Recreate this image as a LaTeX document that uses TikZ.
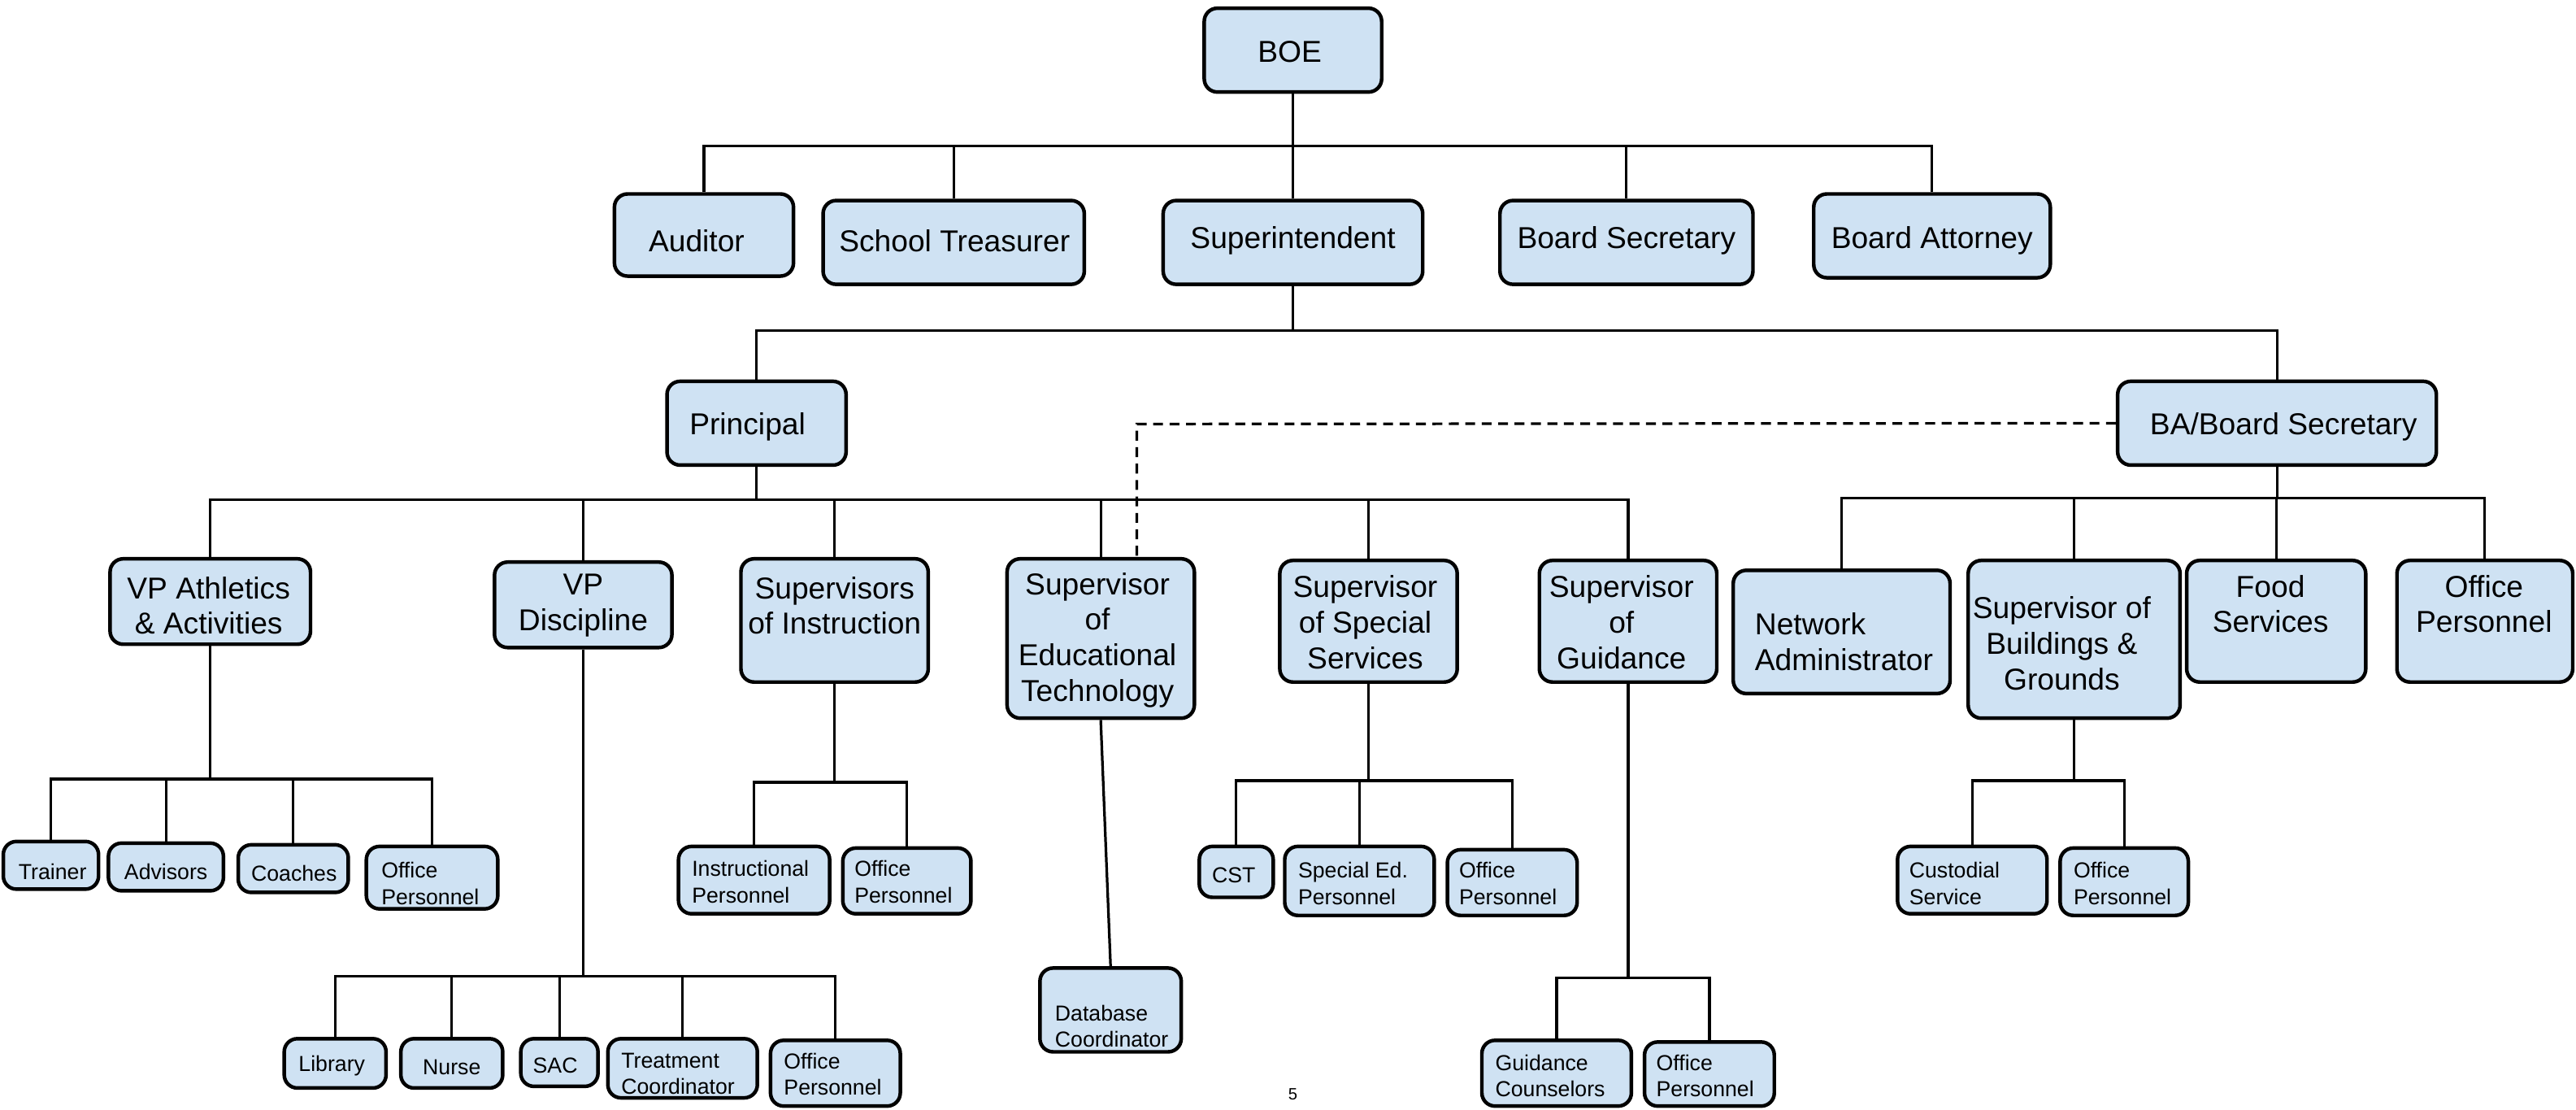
\documentclass[tikz,border=0pt]{standalone}
\usepackage{fontspec}
\setmainfont{Liberation Sans}
\usetikzlibrary{fit}
\definecolor{boxblue}{HTML}{CFE2F3}
\newcommand\bigf{\fontsize{18.4}{21.7}\selectfont}
\newcommand\smf{\fontsize{13.2}{16}\selectfont}
\tikzset{
  box/.style={draw=black, line width=2.2pt, rounded corners=8pt, fill=boxblue, inner sep=0pt},
  conn/.style={draw=black, line width=1.6pt},
  dashconn/.style={draw=black, line width=1.6pt, dash pattern=on 6pt off 4pt},
  btxt/.style={inner sep=0pt, font=\bigf, align=center, yshift=-1.5pt},
  btxtl/.style={inner sep=0pt, font=\bigf, align=left, anchor=west, yshift=-1.5pt},
  stxt/.style={inner sep=0pt, font=\smf, align=center, yshift=-1.5pt},
  stxtl/.style={inner sep=0pt, font=\smf, align=left, anchor=west, yshift=-1.5pt},
}
\newcommand\bx[5]{\path (#2,#3) coordinate (#1-a) (#4,#5) coordinate (#1-b); \node[box, fit=(#1-a)(#1-b)] (#1) {};}
\begin{document}
\begin{tikzpicture}[x=1pt,y=-1pt]
\useasboundingbox[fill=white] (0,0) rectangle (1568,675);
% boxes
\bx{boe}{733}{5}{841}{56}
\bx{aud}{374}{118}{483}{168}
\bx{tre}{501}{122}{660}{173}
\bx{sup}{708}{122}{866}{173}
\bx{bsec}{913}{122}{1067}{173}
\bx{att}{1104}{118}{1248}{169}
\bx{pri}{406}{232}{515}{283}
\bx{ba}{1289}{232}{1483}{283}
\bx{vpa}{67}{340}{189}{392}
\bx{vpd}{301}{342}{409}{394}
\bx{soi}{451}{340}{565}{415}
\bx{sedt}{613}{340}{727}{437}
\bx{sss}{779}{341}{887}{415}
\bx{sg}{937}{341}{1045}{415}
\bx{na}{1055}{347}{1187}{422}
\bx{sbg}{1198}{341}{1327}{437}
\bx{fs}{1331}{341}{1440}{415}
\bx{op}{1459}{341}{1566}{415}
\bx{tr}{2}{512}{60}{541}
\bx{adv}{66}{513}{136}{542}
\bx{coa}{145}{514}{212}{543}
\bx{opa}{223}{515}{303}{553}
\bx{lib}{173}{632}{235}{662}
\bx{nur}{244}{632}{306}{662}
\bx{sac}{317}{632}{364}{661}
\bx{tc}{370}{632}{461}{668}
\bx{opd}{469}{633}{548}{673}
\bx{ip}{413}{515}{505}{556}
\bx{opi}{513}{516}{591}{556}
\bx{db}{633}{589}{719}{640}
\bx{cst}{730}{515}{775}{546}
\bx{sep}{782}{515}{873}{557}
\bx{ops}{881}{517}{960}{557}
\bx{gc}{902}{633}{993}{673}
\bx{opg}{1001}{634}{1080}{673}
\bx{cs}{1155}{515}{1246}{556}
\bx{opb}{1254}{516}{1332}{557}
% texts
\node[btxt] (boe-t) at (785,30) {BOE};
\node[btxt] (aud-t) at (424,145) {Auditor};
\node[btxt] (tre-t) at (581,145) {School Treasurer};
\node[btxt] (sup-t) at (787,145) {Superintendent};
\node[btxt] (bsec-t) at (990,145) {Board Secretary};
\node[btxt] (att-t) at (1176,145) {Board Attorney};
\node[btxt] (pri-t) at (455,258) {Principal};
\node[btxt] (ba-t) at (1390,258) {BA/Board Secretary};
\node[btxt] (vpa-t) at (127,367) {VP Athletics\\\& Activities};
\node[btxt] (vpd-t) at (355,367) {VP\\Discipline};
\node[btxt] (soi-t) at (508,367) {Supervisors\\of Instruction};
\node[btxt] (sedt-t) at (668,388) {Supervisor\\of\\Educational\\Technology};
\node[btxt] (sss-t) at (831,377) {Supervisor\\of Special\\Services};
\node[btxt] (sg-t) at (987,377) {Supervisor\\of\\Guidance};
\node[btxtl] (na-t) at (1068,389) {Network\\Administrator};
\node[btxt] (sbg-t) at (1255,390) {Supervisor of\\Buildings \&\\Grounds};
\node[btxt] (fs-t) at (1382,366) {Food\\Services};
\node[btxt] (op-t) at (1512,366) {Office\\Personnel};
\node[stxt] (tr-t) at (32,529) {Trainer};
\node[stxt] (adv-t) at (101,529) {Advisors};
\node[stxt] (coa-t) at (179,530) {Coaches};
\node[stxtl] (opa-t) at (232,536) {Office\\Personnel};
\node[stxt] (lib-t) at (202,647) {Library};
\node[stxt] (nur-t) at (275,648) {Nurse};
\node[stxt] (sac-t) at (338,647) {SAC};
\node[stxtl] (tc-t) at (378,652) {Treatment\\Coordinator};
\node[stxtl] (opd-t) at (477,652) {Office\\Personnel};
\node[stxtl] (ip-t) at (421,535) {Instructional\\Personnel};
\node[stxtl] (opi-t) at (520,535) {Office\\Personnel};
\node[stxtl] (db-t) at (642,623) {Database\\Coordinator};
\node[stxt] (cst-t) at (751,531) {CST};
\node[stxtl] (sep-t) at (790,536) {Special Ed.\\Personnel};
\node[stxtl] (ops-t) at (888,536) {Office\\Personnel};
\node[stxtl] (gc-t) at (910,653) {Guidance\\Counselors};
\node[stxtl] (opg-t) at (1008,653) {Office\\Personnel};
\node[stxtl] (cs-t) at (1162,536) {Custodial\\Service};
\node[stxtl] (opb-t) at (1262,536) {Office\\Personnel};
\node[inner sep=0pt, font=\fontsize{10}{12}\selectfont] (pg) at (787,666) {5};
% bus levels
\coordinate (y1) at (0,89);
\coordinate (y2) at (0,201);
\coordinate (y3) at (0,304);
\coordinate (y3b) at (0,303);
\coordinate (y4a) at (0,474);
\coordinate (y4b) at (0,594);
\coordinate (y4c) at (0,476);
\coordinate (y4d) at (0,475);
\coordinate (y4e) at (0,595);
\coordinate (y4f) at (0,475);
\newcommand\bus[5]{%
  \draw[conn] (#1.south) -- (#1.south |- #2);
  \draw[conn, line cap=rect] (#3.north |- #2) -- (#4.north |- #2);
  \foreach \c in {#5} { \draw[conn] (\c.north) -- (\c.north |- #2); }
}
\bus{boe}{y1}{aud}{att}{aud,tre,sup,bsec,att}
\bus{sup}{y2}{pri}{ba}{pri,ba}
\bus{pri}{y3}{vpa}{sg}{vpa,vpd,soi,sedt,sss,sg}
\bus{ba}{y3b}{na}{op}{na,sbg,fs,op}
\bus{vpa}{y4a}{tr}{opa}{tr,adv,coa,opa}
\bus{vpd}{y4b}{lib}{opd}{lib,nur,sac,tc,opd}
\bus{soi}{y4c}{ip}{opi}{ip,opi}
\bus{sss}{y4d}{cst}{ops}{cst,sep,ops}
\bus{sg}{y4e}{gc}{opg}{gc,opg}
\bus{sbg}{y4f}{cs}{opb}{cs,opb}
\draw[conn] (sedt.south) -- (db.north);
% dashed link
\coordinate (dcorner) at (692,258);
\draw[dashconn] (ba.west) -- (dcorner) -- (dcorner |- sedt.north);
\end{tikzpicture}
\end{document}
